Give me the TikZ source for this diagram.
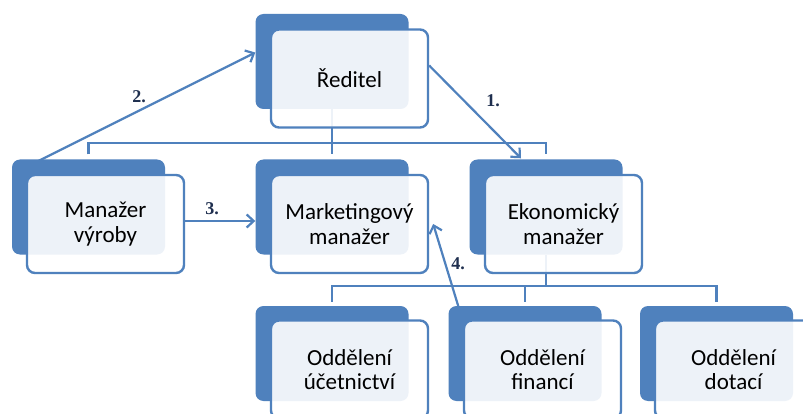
\documentclass[tikz,border=0pt]{standalone}
\usepackage{fontspec}
\setmainfont{Carlito}
\newfontfamily\labelfont{Liberation Serif}
\usetikzlibrary{arrows.meta}
\definecolor{orgblue}{HTML}{4F81BD}
\definecolor{labelnavy}{HTML}{1F2F4F}

\begin{document}
\begin{tikzpicture}[x=1pt, y=-1pt,
    back/.style={rectangle, rounded corners=8pt, fill=orgblue, minimum width=153pt, minimum height=95pt, inner sep=0pt},
    front/.style={rectangle, rounded corners=8pt, draw=orgblue, line width=2.4pt, fill=white, fill opacity=0.9, text opacity=1,
        minimum width=157pt, minimum height=98pt, inner sep=0pt, align=center, font=\fontsize{23}{24.5}\selectfont},
    conn/.style={draw=orgblue, line width=2.2pt},
    step arrow/.style={draw=orgblue, line width=2.2pt, -{Straight Barb[length=7pt,width=13pt,line width=2.2pt]}},
    steplabel/.style={font=\labelfont\bfseries\fontsize{18}{20}\selectfont, text=labelnavy, inner sep=0pt}]
    \useasboundingbox (0,0) rectangle (803,414);
    \fill[white] (0,0) rectangle (803,414);
    \clip (0,0) rectangle (803,414);

    % bars of the tree
    \coordinate (topbar) at (0,143);
    \coordinate (botbar) at (0,286);

    % back shapes
    \node[back] (reditelB) at (332,61.5) {};
    \node[back] (manazerB) at (88.5,207) {};
    \node[back] (marketingB) at (332,207) {};
    \node[back] (ekonomB) at (546,207) {};
    \node[back] (ucetB) at (332,353.5) {};
    \node[back] (financeB) at (525,353.5) {};
    \node[back] (dotaceB) at (716.5,353.5) {};

    % tree lines
    \draw[conn] ([yshift=5pt]manazerB.north) |- (topbar -| ekonomB) -- ([yshift=5pt]ekonomB.north);
    \draw[conn] (reditelB.south) -- ([yshift=5pt]marketingB.north);
    \draw[conn] (ekonomB.south) -- (botbar -| ekonomB);
    \draw[conn] ([yshift=4pt]ucetB.north) |- (botbar -| dotaceB) -- ([yshift=4pt]dotaceB.north);
    \draw[conn] (botbar -| financeB) -- ([yshift=4pt]financeB.north);

    % front shapes
    \node[front] (reditel) at (349.5,78.5) {Ředitel};
    \node[front] (manazer) at (105.5,224) {Manažer\\výroby};
    \node[front] (marketing) at (349.5,224) {Marketingový\\manažer};
    \node[front] (ekonom) at (563.5,224) {Ekonomický\\manažer};
    \node[front] (ucet) at (349.5,369.5) {Oddělení\\účetnictví};
    \node[front] (finance) at (542.5,369.5) {Oddělení\\financí};
    \node[front] (dotace) at (733.5,369.5) {Oddělení\\dotací};

    % numbered steps
    \draw[step arrow] ([yshift=13pt]reditel.east) -- ([xshift=-25pt,yshift=1pt]ekonomB.north);
    \draw[step arrow] ([xshift=26pt,yshift=-2pt]manazerB.north west) -- ([yshift=9pt]reditelB.west);
    \draw[step arrow] ([yshift=3pt]manazer.east) -- ([yshift=3pt]manazer.east -| marketingB.west);
    \draw[step arrow] ([xshift=12pt,yshift=-7pt]financeB.north west) -- ([xshift=4pt]marketing.east);

    \node[steplabel] (one) at (493,101) {1.};
    \node[steplabel] (two) at (139,97) {2.};
    \node[steplabel] (three) at (212,209) {3.};
    \node[steplabel] (four) at (458,264) {4.};
\end{tikzpicture}
\end{document}
